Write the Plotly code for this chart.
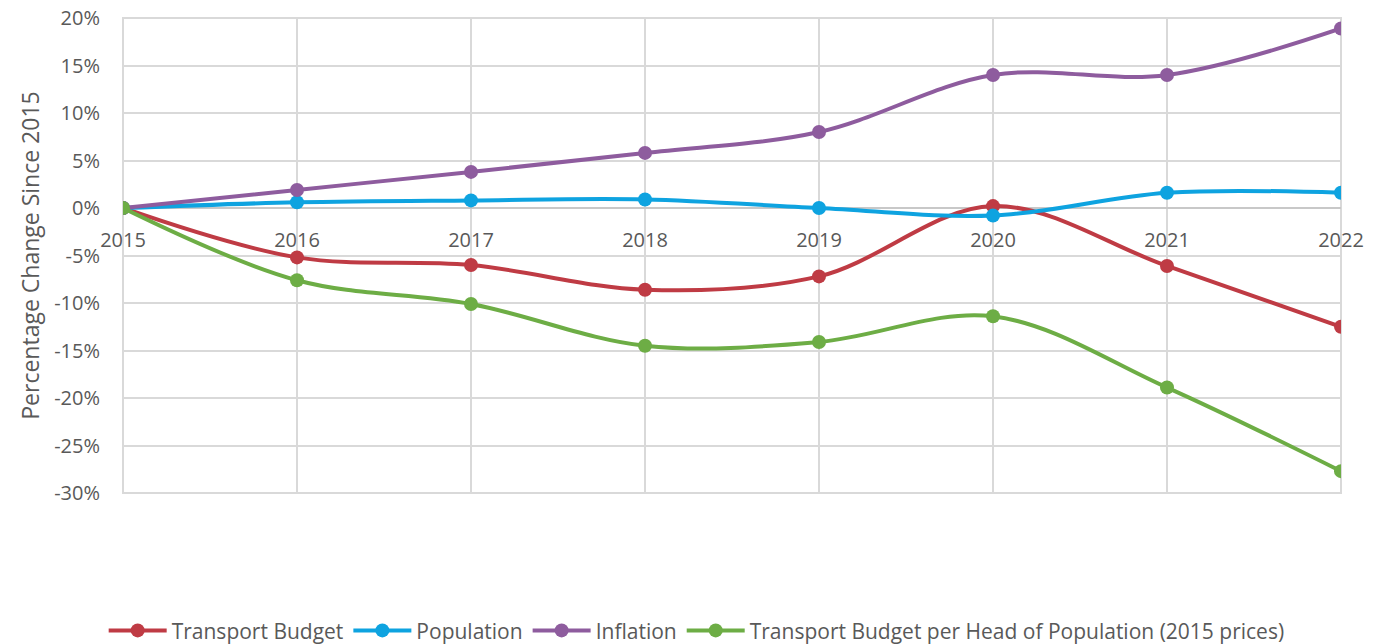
import plotly.graph_objects as go

# Percentage change since 2015 for each measure
years = [2015, 2016, 2017, 2018, 2019, 2020, 2021, 2022]
transport_budget = [0.0, -5.2, -6.0, -8.6, -7.2, 0.2, -6.1, -12.5]
population = [0.0, 0.6, 0.8, 0.9, 0.0, -0.8, 1.6, 1.6]
inflation = [0.0, 1.9, 3.8, 5.8, 8.0, 14.0, 14.0, 18.9]
budget_per_head = [0.0, -7.6, -10.1, -14.5, -14.1, -11.4, -18.9, -27.7]

y_ticks = [-30, -25, -20, -15, -10, -5, 0, 5, 10, 15, 20]
y_tick_text = [f"{v}%" for v in y_ticks]

series = [
    ("Transport Budget", transport_budget, "#BF3B44"),
    ("Population", population, "#0EA3E0"),
    ("Inflation", inflation, "#8E5C9E"),
    ("Transport Budget per Head of Population (2015 prices)", budget_per_head, "#6DAD45"),
]

FONT = "Open Sans"
TEXT = "#595959"
GRID = "#D9D9D9"

fig = go.Figure()
for name, vals, col in series:
    fig.add_trace(go.Scatter(
        x=years, y=vals, name=name, mode="lines+markers",
        line=dict(color=col, width=4, shape="spline", smoothing=1),
        marker=dict(color=col, size=14),
    ))

y_min, y_max = min(y_ticks), max(y_ticks)
zero_pos = (0 - y_min) / (y_max - y_min)

fig.update_layout(
    width=1391, height=644,
    margin=dict(l=123, r=50, t=18, b=151, autoexpand=False),
    paper_bgcolor="white", plot_bgcolor="white",
    font=dict(family=FONT, color=TEXT, size=20),
    showlegend=True,
    legend=dict(
        orientation="h", x=0.471, xanchor="center", y=-0.29, yanchor="middle",
        font=dict(size=21, color=TEXT), itemwidth=58, tracegroupgap=0,
    ),
    xaxis=dict(
        range=[years[0], years[-1]], tickvals=years, ticktext=[str(y) for y in years],
        anchor="free", position=zero_pos,
        showgrid=True, gridcolor=GRID, gridwidth=2,
        showline=False, zeroline=False, ticks="",
        ticklabelstandoff=18, tickfont=dict(size=20, color=TEXT),
    ),
    yaxis=dict(
        range=[y_min, y_max], tickvals=y_ticks, ticktext=y_tick_text,
        showgrid=True, gridcolor=GRID, gridwidth=2,
        zeroline=True, zerolinecolor="#C8C8C8", zerolinewidth=2,
        showline=False, ticks="", ticklabelstandoff=22,
        tickfont=dict(size=20, color=TEXT),
        title=dict(text="Percentage Change Since 2015", font=dict(size=23, color=TEXT), standoff=8),
    ),
    shapes=[dict(type="rect", xref="paper", yref="paper", x0=0, x1=1, y0=0, y1=1,
                 line=dict(color=GRID, width=2), layer="below")],
)

fig.write_html("out.html")
